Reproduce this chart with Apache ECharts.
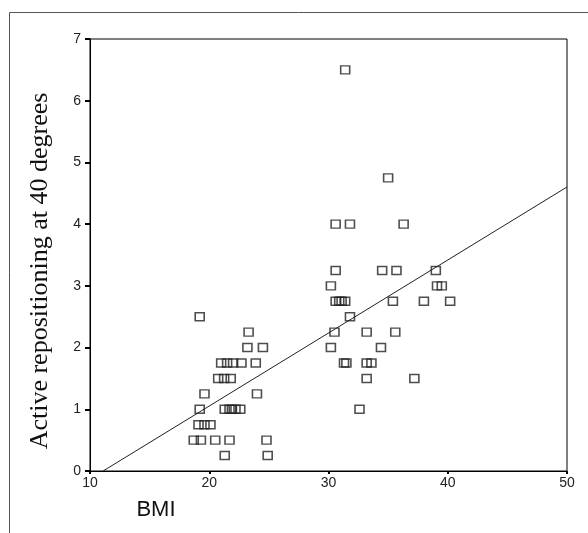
<!DOCTYPE html>
<html>
<head>
<meta charset="utf-8">
<script src="https://cdn.jsdelivr.net/npm/echarts@6/dist/echarts.min.js"></script>
<style>html,body{margin:0;padding:0;background:#fff;}#c{width:588px;height:533px;}</style>
</head>
<body>
<div id="c"></div>
<script>
// BMI values (x) and active repositioning error at 40 degrees (y)
var bmi = [
  31.4,
  35.0,
  30.6, 31.8, 36.3,
  30.6, 34.5, 35.7, 39.0,
  30.2, 39.1, 39.5,
  30.6, 30.9, 31.1, 31.4, 35.4, 38.0, 40.2,
  19.2, 31.8,
  23.3, 30.5, 33.2, 35.6,
  23.2, 24.5, 30.2, 34.4,
  21.0, 21.5, 22.0, 22.7, 23.9, 31.3, 31.5, 33.2, 33.6,
  20.75, 21.25, 21.8, 33.2, 37.2,
  19.6, 24.0,
  19.2, 21.3, 21.7, 21.9, 22.2, 22.6, 32.6,
  19.1, 19.6, 20.1,
  18.7, 19.3, 20.5, 21.7, 24.8,
  21.3, 24.9
];
var repositioning = [
  6.5,
  4.75,
  4.0, 4.0, 4.0,
  3.25, 3.25, 3.25, 3.25,
  3.0, 3.0, 3.0,
  2.75, 2.75, 2.75, 2.75, 2.75, 2.75, 2.75,
  2.5, 2.5,
  2.25, 2.25, 2.25, 2.25,
  2.0, 2.0, 2.0, 2.0,
  1.75, 1.75, 1.75, 1.75, 1.75, 1.75, 1.75, 1.75, 1.75,
  1.5, 1.5, 1.5, 1.5, 1.5,
  1.25, 1.25,
  1.0, 1.0, 1.0, 1.0, 1.0, 1.0, 1.0,
  0.75, 0.75, 0.75,
  0.5, 0.5, 0.5, 0.5, 0.5,
  0.25, 0.25
];
// regression fit line
var fitIntercept = -1.313;
var fitSlope = 0.1183;
var fitRange = [11.1, 50];

var xTicks = [10, 20, 30, 40, 50];
var yTicks = [0, 1, 2, 3, 4, 5, 6, 7];

var points = bmi.map(function (x, i) { return [x, repositioning[i]]; });
var fitLine = fitRange.map(function (x) { return [x, fitIntercept + fitSlope * x]; });

var chart = echarts.init(document.getElementById('c'), null, {renderer: 'canvas'});
var tickFont = {fontFamily: 'Liberation Sans', fontSize: 14, color: '#222'};
chart.setOption({
  animation: false,
  backgroundColor: '#fff',
  grid: {left: 90, top: 39, right: 21, bottom: 62, show: true, borderColor: '#000', borderWidth: 1, backgroundColor: 'transparent'},
  xAxis: {
    type: 'value', min: xTicks[0], max: xTicks[xTicks.length - 1], interval: 10,
    axisLine: {show: true, lineStyle: {color: '#000', width: 1}},
    axisTick: {show: true, inside: false, length: 3, lineStyle: {color: '#000', width: 2}},
    axisLabel: Object.assign({margin: 5}, tickFont),
    splitLine: {show: false}
  },
  yAxis: {
    type: 'value', min: yTicks[0], max: yTicks[yTicks.length - 1], interval: 1,
    axisLine: {show: true, lineStyle: {color: '#000', width: 1}},
    axisTick: {show: true, inside: false, length: 5, lineStyle: {color: '#000', width: 2}},
    axisLabel: Object.assign({margin: 9}, tickFont),
    splitLine: {show: false}
  },
  series: [
    {
      type: 'scatter',
      data: points,
      symbol: 'rect',
      symbolSize: [9, 8],
      itemStyle: {color: 'rgba(255,255,255,0)', borderColor: '#222', borderWidth: 1.5},
      z: 3
    },
    {
      type: 'line',
      data: fitLine,
      showSymbol: false,
      symbol: 'none',
      lineStyle: {color: '#222', width: 1},
      z: 2
    }
  ],
  graphic: [
    {type: 'line', shape: {x1: 9.5, y1: 12.5, x2: 588, y2: 12.5}, style: {stroke: '#555', lineWidth: 1}},
    {type: 'line', shape: {x1: 9.5, y1: 12.5, x2: 9.5, y2: 533}, style: {stroke: '#555', lineWidth: 1}},
    {
      type: 'text', x: 40, y: 271, rotation: Math.PI / 2,
      style: {text: 'Active repositioning at 40 degrees', font: '26px "Liberation Serif"', fill: '#111', textAlign: 'center', textVerticalAlign: 'middle'}
    },
    {
      type: 'text', x: 156, y: 510,
      style: {text: 'BMI', font: '22px "Liberation Sans"', fill: '#111', textAlign: 'center', textVerticalAlign: 'middle'}
    }
  ]
});
</script>
</body>
</html>
